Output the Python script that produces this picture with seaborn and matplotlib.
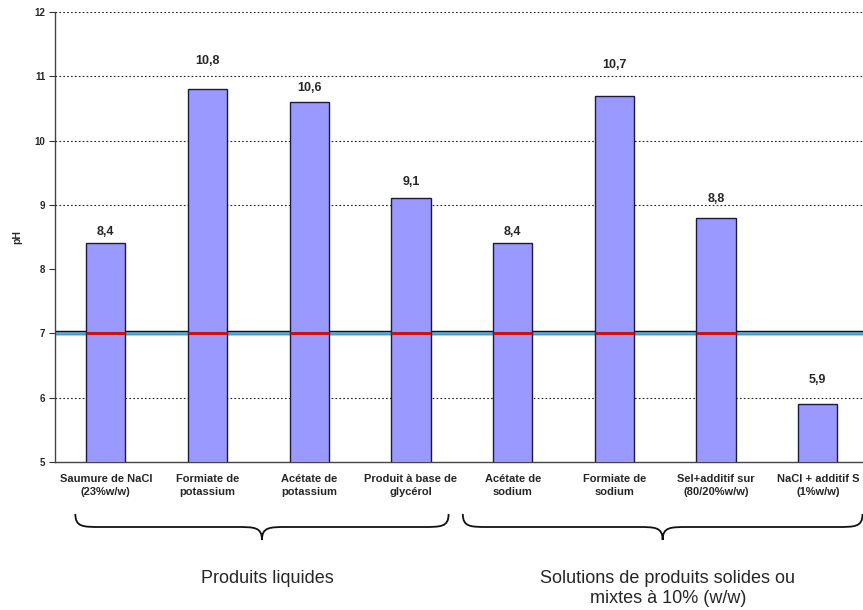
import matplotlib
matplotlib.use("Agg")
import matplotlib.pyplot as plt
import matplotlib.patheffects as pe
from matplotlib.path import Path
from matplotlib.patches import PathPatch
from matplotlib.transforms import blended_transform_factory
import seaborn as sns
import pandas as pd

# pH measured for each de-icing product
categories = [
    "Saumure de NaCl\n(23%w/w)",
    "Formiate de\npotassium",
    "Acétate de\npotassium",
    "Produit à base de\nglycérol",
    "Acétate de\nsodium",
    "Formiate de\nsodium",
    "Sel+additif sur\n(80/20%w/w)",
    "NaCl + additif S\n(1%w/w)",
]
ph_values = [8.4, 10.8, 10.6, 9.1, 8.4, 10.7, 8.8, 5.9]
value_labels = ["8,4", "10,8", "10,6", "9,1", "8,4", "10,7", "8,8", "5,9"]
label_offsets_px = [11, 28, 14, 16, 11, 31, 19, 24]

y_ticks = [5, 6, 7, 8, 9, 10, 11, 12]
grid_levels = [6, 9, 10, 11, 12]
neutral_ph = 7

groups = ["Produits liquides", "Solutions de produits solides ou\nmixtes à 10% (w/w)"]
group_spans = [(-0.30, 3.37), (3.51, 7.44)]

sns.set_style("white")
plt.rcParams["font.family"] = ["Liberation Sans", "DejaVu Sans"]

df = pd.DataFrame({"produit": categories, "pH": ph_values})

fig = plt.figure(figsize=(8.63, 6.10), dpi=100)
ax = fig.add_axes([55 / 863, 1 - 462 / 610, 813.6 / 863, 450 / 610])

bar_w = 0.385
sns.barplot(data=df, x="produit", y="pH", ax=ax, color="#9999FF",
            saturation=1, width=bar_w, edgecolor="#1a1a40", linewidth=1.0,
            zorder=3)

ax.set_ylim(5, 12)
ax.set_xlim(-0.5, len(categories) - 0.5)
ax.set_yticks(y_ticks)
ax.set_yticklabels([str(t) for t in y_ticks], fontsize=7, fontweight="bold")

for g in grid_levels:
    ax.axhline(g, color="#222222", lw=0.8, ls=(0, (1.5, 2)), zorder=1)

# neutral pH reference line, red where it crosses a bar
ax.axhline(neutral_ph, color="#5aa8d8", lw=2.0, zorder=2,
           path_effects=[pe.Stroke(linewidth=3.2, foreground="#111111"), pe.Normal()])
for i, v in enumerate(ph_values):
    if v > neutral_ph:
        ax.plot([i - bar_w / 2, i + bar_w / 2], [neutral_ph, neutral_ph],
                color="#cc1111", lw=2.2, zorder=4, solid_capstyle="butt")

for i, (v, lab, off) in enumerate(zip(ph_values, value_labels, label_offsets_px)):
    ax.annotate(lab, (i, v), xytext=(0, off * 0.72), textcoords="offset points",
                ha="center", va="center", fontsize=9, fontweight="bold", zorder=5)

# x axis: labels under bars, ticks on some category boundaries
ax.set_xticks(range(len(categories)))
ax.set_xticklabels(categories, fontsize=8.0, fontweight="bold", linespacing=1.3)
ax.tick_params(axis="x", length=0, pad=9)
ax.set_xticks([1.5, 2.5, 4.5, 6.5], minor=True)
ax.tick_params(axis="x", which="minor", length=4, width=0.8, color="#333333", direction="out")
ax.tick_params(axis="y", length=4, width=0.8, color="#333333", direction="out", pad=3, left=True)

ax.set_xlabel("")
ax.set_ylabel("pH", fontsize=7.5, fontweight="bold", labelpad=9)

for s in ["top", "right"]:
    ax.spines[s].set_visible(False)
for s in ["left", "bottom"]:
    ax.spines[s].set_color("#444444")
    ax.spines[s].set_linewidth(1.0)

# curly braces grouping the categories
trans = blended_transform_factory(ax.transData, fig.transFigure)


def brace(x0, x1, y_end, y_mid, y_tip):
    xm = (x0 + x1) / 2
    d = 0.25
    verts = [
        (x0, y_end),
        (x0, y_mid), (x0 + d * 0.3, y_mid), (x0 + d, y_mid),
        (xm - d, y_mid),
        (xm - d * 0.3, y_mid), (xm, y_mid), (xm, y_tip),
        (xm, y_mid), (xm + d * 0.3, y_mid), (xm + d, y_mid),
        (x1 - d, y_mid),
        (x1 - d * 0.3, y_mid), (x1, y_mid), (x1, y_end),
    ]
    codes = [Path.MOVETO,
             Path.CURVE4, Path.CURVE4, Path.CURVE4,
             Path.LINETO,
             Path.CURVE4, Path.CURVE4, Path.CURVE4,
             Path.CURVE4, Path.CURVE4, Path.CURVE4,
             Path.LINETO,
             Path.CURVE4, Path.CURVE4, Path.CURVE4]
    p = PathPatch(Path(verts, codes), transform=trans, fill=False,
                  lw=1.3, edgecolor="#111111", clip_on=False)
    fig.add_artist(p)


for (x0, x1), name in zip(group_spans, groups):
    brace(x0, x1, 1 - 514 / 610, 1 - 527 / 610, 1 - 540 / 610)
    fig.text((x0 + x1) / 2 + 0.05, 1 - 570 / 610, name, transform=trans,
             ha="center", va="top", fontsize=13, linespacing=1.25)

fig.savefig("out.png", dpi=100)
